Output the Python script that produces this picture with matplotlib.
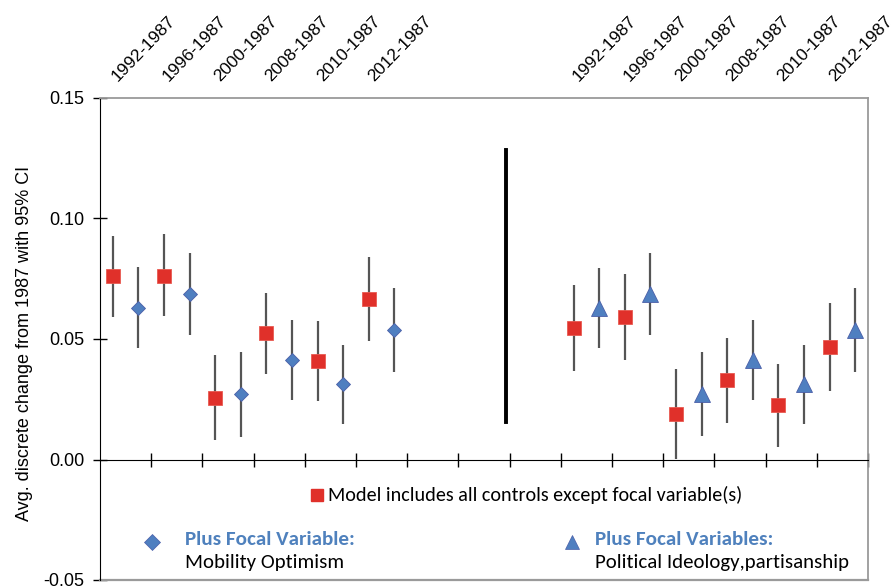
import matplotlib.pyplot as plt
import numpy as np

# comparisons, one label per pair of markers
pairs = ["1992-1987", "1996-1987", "2000-1987", "2008-1987", "2010-1987", "2012-1987"]

# left panel: model without focal variable (red) / plus mobility optimism (blue)
left_red = [0.0761, 0.0763, 0.0257, 0.0523, 0.0407, 0.0665]
left_red_lo = [0.0592, 0.0595, 0.0080, 0.0356, 0.0242, 0.0491]
left_red_hi = [0.0929, 0.0935, 0.0434, 0.0689, 0.0573, 0.0841]
left_blue = [0.0629, 0.0685, 0.0272, 0.0412, 0.0314, 0.0537]
left_blue_lo = [0.0462, 0.0517, 0.0095, 0.0246, 0.0148, 0.0362]
left_blue_hi = [0.0797, 0.0855, 0.0447, 0.0580, 0.0476, 0.0710]

# right panel: model without focal variables (red) / plus ideology, partisanship (blue)
right_red = [0.0545, 0.0592, 0.0190, 0.0328, 0.0225, 0.0468]
right_red_lo = [0.0366, 0.0412, 0.0003, 0.0152, 0.0051, 0.0283]
right_red_hi = [0.0722, 0.0770, 0.0375, 0.0503, 0.0398, 0.0651]
right_blue = [0.0627, 0.0686, 0.0270, 0.0412, 0.0313, 0.0537]
right_blue_lo = [0.0462, 0.0517, 0.0097, 0.0246, 0.0148, 0.0362]
right_blue_hi = [0.0795, 0.0855, 0.0447, 0.0580, 0.0477, 0.0710]

# 30 category slots, markers sit in slot pairs
n_slots = 30
left_start = 0
right_start = 18
separator_x = 15.35
separator_y = (0.0154, 0.1284)

red = "#E0302A"
blue = "#4F7FC0"
blue_edge = "#4A5EA8"
bar_color = "#555555"
frame_gray = "#9A9A9A"
text_blue = "#4F81BD"

arial = ["Liberation Sans", "DejaVu Sans"]
calibri = ["Carlito", "Lato", "DejaVu Sans"]


def draw_series(ax, xs, vals, lo, hi, marker, size, face, edge):
    vals = np.array(vals)
    err = [vals - np.array(lo), np.array(hi) - vals]
    ax.errorbar(xs, vals, yerr=err, fmt="none", ecolor=bar_color, elinewidth=1.6, capsize=0, zorder=2)
    ax.plot(xs, vals, linestyle="none", marker=marker, markersize=size, markerfacecolor=face,
            markeredgecolor=edge, markeredgewidth=0.6, zorder=3)


fig = plt.figure(figsize=(8.94, 5.86), dpi=100)
ax = fig.add_axes([100 / 894, 6 / 586, 768 / 894, 482 / 586])

idx = np.arange(len(pairs))
draw_series(ax, left_start + 2 * idx, left_red, left_red_lo, left_red_hi, "s", 9.6, red, "#E85A50")
draw_series(ax, left_start + 2 * idx + 1, left_blue, left_blue_lo, left_blue_hi, "D", 7.3, blue, blue_edge)
draw_series(ax, right_start + 2 * idx, right_red, right_red_lo, right_red_hi, "s", 9.6, red, "#E85A50")
draw_series(ax, right_start + 2 * idx + 1, right_blue, right_blue_lo, right_blue_hi, "^", 11.5, blue, blue_edge)

# divider between the two panels
ax.plot([separator_x, separator_x], separator_y, color="black", linewidth=2.8, zorder=4)

ax.set_xlim(-0.5, n_slots - 0.5)
ax.set_ylim(-0.05, 0.15)

# frame: black left axis and zero line, gray box
ax.spines["left"].set_color("black")
ax.spines["bottom"].set_position(("data", 0))
ax.spines["bottom"].set_color("black")
ax.spines["top"].set_color(frame_gray)
ax.spines["right"].set_color(frame_gray)
ax.axhline(-0.05, color=frame_gray, linewidth=1.6, clip_on=False)
for s in ["top", "right"]:
    ax.spines[s].set_linewidth(1.3)

ax.set_xticks(np.arange(1.5, n_slots, 2))
ax.set_xticklabels([])
ax.tick_params(axis="x", direction="inout", length=10, width=1, color="black")
ax.set_yticks([-0.05, 0.0, 0.05, 0.10, 0.15])
ax.set_yticklabels(["-0.05", "0.00", "0.05", "0.10", "0.15"], family=arial, fontsize=13)
ax.tick_params(axis="y", direction="inout", length=10, width=1, color="black", pad=6)
ax.set_ylabel("Avg. discrete change from 1987 with 95% CI", family=arial, fontsize=13)
ax.yaxis.set_label_coords(-0.087, 0.491)

# rotated comparison labels above the plot
for start in [left_start, right_start]:
    for i, lab in enumerate(pairs):
        ax.text(start + 2 * i + 0.2, 1.034, lab, transform=ax.get_xaxis_transform(), rotation=46,
                rotation_mode="anchor", ha="left", va="baseline", family=arial, fontsize=12.6)

# hand-made legend inside the plot
ax.plot(0.2826, 0.1763, transform=ax.transAxes, marker="s", markersize=8.8, color=red,
        linestyle="none", clip_on=False)
ax.text(0.2969, 0.1763, "Model includes all controls except focal variable(s)", transform=ax.transAxes,
        ha="left", va="center", family=calibri, fontsize=14.5)

ax.plot(0.0677, 0.0788, transform=ax.transAxes, marker="D", markersize=8, color=blue,
        markeredgecolor=blue_edge, markeredgewidth=0.5, linestyle="none", clip_on=False)
ax.text(0.1107, 0.083, "Plus Focal Variable:", transform=ax.transAxes, ha="left", va="center",
        family=calibri, fontsize=15.2, fontweight="bold", color=text_blue)
ax.text(0.1107, 0.036, "Mobility Optimism", transform=ax.transAxes, ha="left", va="center",
        family=calibri, fontsize=15)

ax.plot(0.6146, 0.0788, transform=ax.transAxes, marker="^", markersize=10, color=blue,
        markeredgecolor=blue_edge, markeredgewidth=0.5, linestyle="none", clip_on=False)
ax.text(0.6445, 0.083, "Plus Focal Variables:", transform=ax.transAxes, ha="left", va="center",
        family=calibri, fontsize=15.2, fontweight="bold", color=text_blue)
ax.text(0.6445, 0.036, "Political Ideology,partisanship", transform=ax.transAxes, ha="left", va="center",
        family=calibri, fontsize=15)

fig.savefig("out.png", dpi=100)
